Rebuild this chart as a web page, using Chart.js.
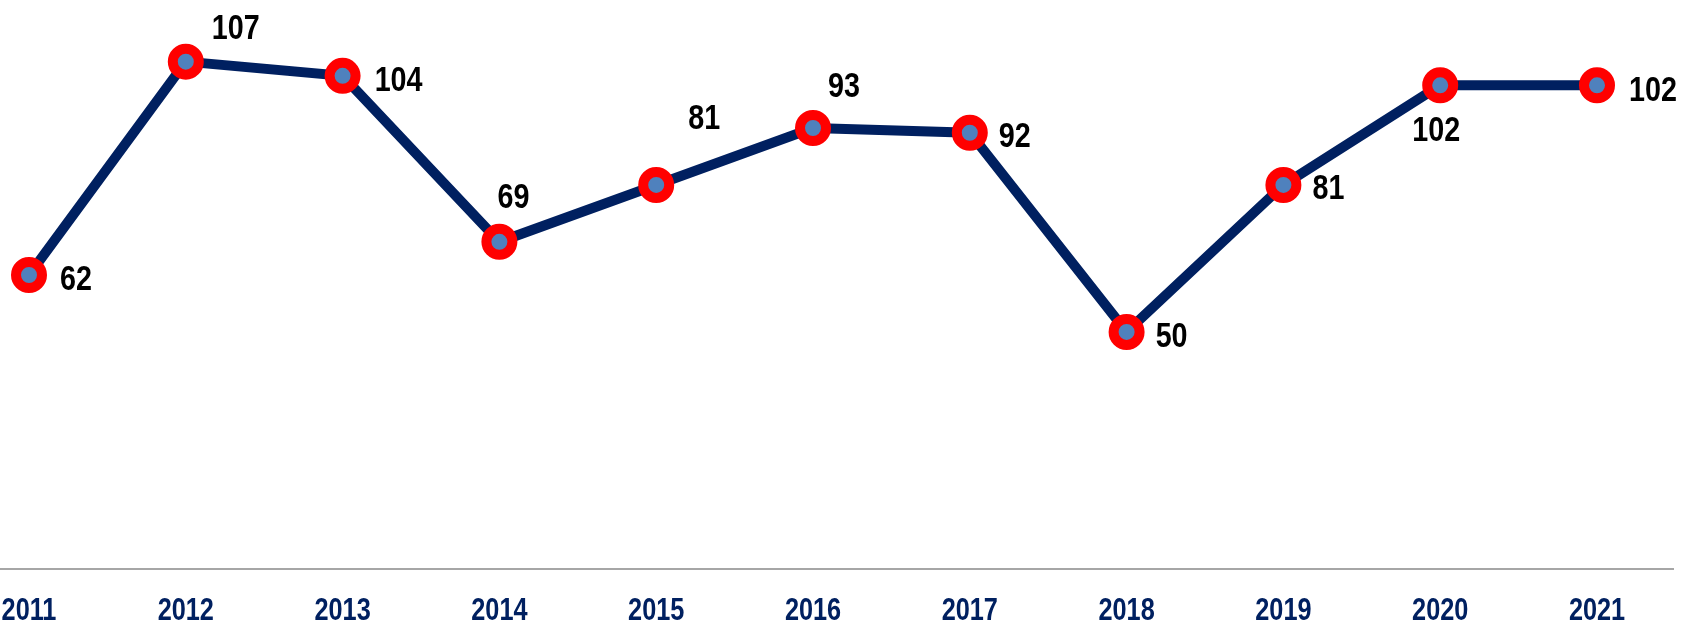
<!DOCTYPE html>
<html>
<head>
<meta charset="utf-8">
<script src="https://cdn.jsdelivr.net/npm/chart.js@4/dist/chart.umd.min.js"></script>
<style>
  html, body { margin: 0; padding: 0; background: #fff; }
  #wrap { width: 1683px; height: 623px; }
</style>
</head>
<body>
<div id="wrap"><canvas id="chartCanvas" width="1683" height="623"></canvas></div>
<script>
(function() {
  'use strict';

  var years = ['2011', '2012', '2013', '2014', '2015', '2016', '2017', '2018', '2019', '2020', '2021'];
  var counts = [62, 107, 104, 69, 81, 93, 92, 50, 81, 102, 102];
  // label centre offsets from each point, px
  var labelDx = [47, 50, 56, 14, 48, 31, 45, 45, 45, -4, 56];
  var labelDy = [2, -35, 3, -46, -68, -44, 2, 3, 2, 43, 3];

  var fontFamily = '"Liberation Sans", Arial, sans-serif';
  var narrow = 0.82; // no narrow face installed, squeeze the bold one

  function squeezedText(ctx, text, x, y, scaleX) {
    ctx.save();
    ctx.translate(x, y);
    ctx.scale(scaleX, 1);
    ctx.fillText(text, 0, 0);
    ctx.restore();
  }

  var valueLabels = {
    id: 'valueLabels',
    beforeDatasetsDraw: function(chart) {
      // grey baseline across the whole width
      var ctx = chart.ctx;
      var y = chart.scales.y.getPixelForValue(0);
      ctx.save();
      ctx.strokeStyle = '#A6A6A6';
      ctx.lineWidth = 2;
      ctx.beginPath();
      ctx.moveTo(0, y);
      ctx.lineTo(1674, y);
      ctx.stroke();
      ctx.restore();
    },
    afterDatasetsDraw: function(chart) {
      var ctx = chart.ctx;
      var meta = chart.getDatasetMeta(0);
      ctx.save();
      ctx.fillStyle = '#000';
      ctx.font = 'bold 35px ' + fontFamily;
      ctx.textAlign = 'center';
      ctx.textBaseline = 'alphabetic';
      meta.data.forEach(function(pt, i) {
        squeezedText(ctx, String(counts[i]), pt.x + labelDx[i], pt.y + labelDy[i] + 12.5, narrow);
      });

      // category labels at the x scale's tick positions
      var xs = chart.scales.x;
      var base = chart.scales.y.getPixelForValue(0);
      ctx.fillStyle = '#002060';
      ctx.font = 'bold 32px ' + fontFamily;
      xs.ticks.forEach(function(t, i) {
        squeezedText(ctx, xs.getLabelForValue(t.value), xs.getPixelForTick(i), base + 51, 0.79);
      });
      ctx.restore();
    }
  };

  var ctx = document.getElementById('chartCanvas').getContext('2d');
  new Chart(ctx, {
    type: 'line',
    data: {
      labels: years,
      datasets: [{
        data: counts,
        borderColor: '#002060',
        borderWidth: 10,
        tension: 0,
        pointRadius: 13,
        pointHoverRadius: 13,
        pointBackgroundColor: '#4F81BD',
        pointBorderColor: '#FF0000',
        pointBorderWidth: 10,
        clip: false
      }]
    },
    options: {
      responsive: false,
      animation: false,
      devicePixelRatio: 1,
      layout: { autoPadding: false, padding: { left: 29, right: 86, top: 0, bottom: 54 } },
      plugins: {
        legend: { display: false },
        tooltip: { enabled: false }
      },
      scales: {
        x: {
          offset: false,
          grid: { display: false, drawTicks: false },
          border: { display: false },
          ticks: { display: false, autoSkip: false, maxRotation: 0 }
        },
        y: {
          display: false,
          min: 0,
          max: 120
        }
      }
    },
    plugins: [valueLabels]
  });
})();
</script>
</body>
</html>
